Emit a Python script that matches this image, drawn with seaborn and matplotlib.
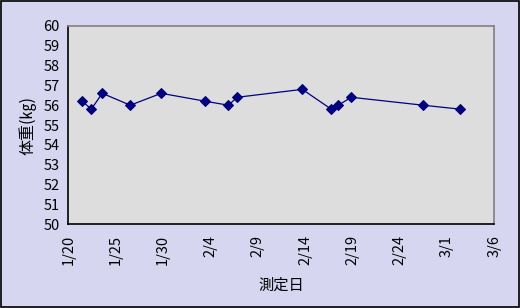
import matplotlib
matplotlib.use("Agg")
import matplotlib.pyplot as plt
from matplotlib.patches import Rectangle
import seaborn as sns
import pandas as pd

# --- data ---
dates = ["2007-01-21 11:30", "2007-01-22 10:20", "2007-01-23 14:10",
         "2007-01-26 13:10", "2007-01-29 19:40", "2007-02-03 11:20",
         "2007-02-05 21:40", "2007-02-06 20:25", "2007-02-13 17:15",
         "2007-02-16 18:40", "2007-02-17 12:30", "2007-02-18 21:20",
         "2007-02-26 11:20", "2007-03-02 09:40"]
weights = [56.2, 55.8, 56.6, 56.0, 56.6, 56.2, 56.0, 56.4, 56.8,
           55.8, 56.0, 56.4, 56.0, 55.8]
tick_dates = ["2007-01-20", "2007-01-25", "2007-01-30", "2007-02-04",
              "2007-02-09", "2007-02-14", "2007-02-19", "2007-02-24",
              "2007-03-01", "2007-03-06"]
tick_labels = ["1/20", "1/25", "1/30", "2/4", "2/9", "2/14", "2/19",
               "2/24", "3/1", "3/6"]
y_ticks = [50, 51, 52, 53, 54, 55, 56, 57, 58, 59, 60]
x_title = "測定日"
y_title = "体重(㎏)"

df = pd.DataFrame({"date": pd.to_datetime(dates), "weight": weights})

sns.set_theme(style="white")
plt.rcParams["font.family"] = ["Noto Sans CJK JP", "DejaVu Sans"]

BG = "#D6D6F0"
PLOT_BG = "#DDDDDD"
NAVY = "#000080"

fig = plt.figure(figsize=(5.2, 3.08), dpi=100, facecolor=BG)
ax = fig.add_axes([0.1313, 0.2727, 0.9506 - 0.1313, 0.9156 - 0.2727])
ax.set_facecolor(PLOT_BG)

sns.lineplot(data=df, x="date", y="weight", ax=ax, color=NAVY,
             linewidth=0.9, marker="D", markersize=4.6,
             markeredgecolor=NAVY, markerfacecolor=NAVY)

tk = pd.to_datetime(tick_dates)
ax.set_xlim(tk[0], tk[-1])
ax.set_xticks(tk)
ax.set_xticklabels(tick_labels, rotation=90, fontsize=10.5, color="black")
ax.set_ylim(50, 60)
ax.set_yticks(y_ticks)
ax.set_yticklabels([str(v) for v in y_ticks], fontsize=10.5, color="black")

ax.tick_params(axis="both", direction="in", length=4, width=1,
               color="black")
ax.tick_params(axis="x", pad=8)
ax.tick_params(axis="y", pad=6)

for side in ["left", "bottom"]:
    ax.spines[side].set_color("black")
    ax.spines[side].set_linewidth(1.2)
for side in ["top", "right"]:
    ax.spines[side].set_visible(True)
    ax.spines[side].set_color("#808080")
    ax.spines[side].set_linewidth(1.2)

ax.set_xlabel(x_title, fontsize=11, color="black", labelpad=8)
ax.set_ylabel(y_title, fontsize=11.5, color="black", labelpad=5)
ax.grid(False)

fig.patches.append(Rectangle((0.001, 0.002), 0.997, 0.995,
                             transform=fig.transFigure, fill=False,
                             edgecolor="black", linewidth=1.2))

fig.savefig("out.png", dpi=100, facecolor=BG)
